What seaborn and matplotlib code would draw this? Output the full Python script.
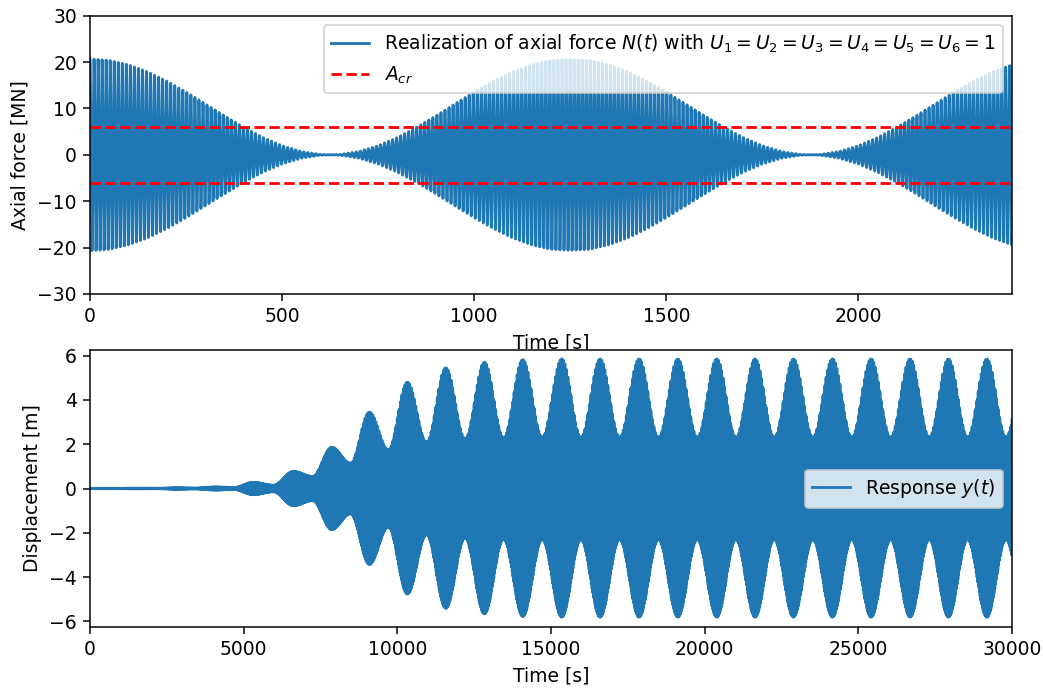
import numpy as np
import pandas as pd
import matplotlib
matplotlib.use("Agg")
import matplotlib.pyplot as plt
import seaborn as sns

# ---------------- data ----------------
# Top panel: envelope of the axial force N(t) [MN] at knot times [s]
force_env_t = [0, 50, 100, 150, 200, 250, 300, 350, 400, 450, 500, 550, 600, 625,
               650, 700, 750, 800, 850, 900, 950, 1000, 1050, 1100, 1150, 1200,
               1250, 1300, 1350, 1400, 1450, 1500, 1550, 1600, 1650, 1700, 1750,
               1800, 1850, 1875, 1900, 1950, 2000, 2050, 2100, 2150, 2200, 2250,
               2300, 2350, 2400]
force_env_v = [20.7, 20.38, 19.42, 17.9, 15.9, 13.55, 11.0, 8.41, 5.94, 3.75, 1.98,
               0.73, 0.08, 0.0, 0.08, 0.73, 1.98, 3.75, 5.94, 8.41, 11.0, 13.55,
               15.9, 17.9, 19.42, 20.38, 20.6, 20.38, 19.42, 17.9, 15.9, 13.55, 11.0,
               8.41, 5.94, 3.75, 1.98, 0.73, 0.08, 0.0, 0.08, 0.73, 1.98, 3.75, 5.94,
               8.41, 11.0, 13.55, 15.9, 17.9, 19.42]
force_carrier_period = 10.5      # s, spacing of the visible strokes
A_cr = 6.0                       # MN, critical amplitude (red dashed lines)

# Bottom panel: envelope of the response y(t) [m]
resp_peak_t = [320, 1570, 2820, 4070, 5316, 6618, 7866, 9090, 10326, 11576, 12832,
               14081, 15350, 16597, 17866, 19126, 20393, 21640, 22887, 24156,
               25415, 26684, 27931, 29180, 30430]
resp_peak_v = [0.01, 0.015, 0.03, 0.07, 0.28, 0.78, 1.87, 3.45, 4.8, 5.45, 5.7,
               5.82, 5.85, 5.85, 5.85, 5.85, 5.85, 5.85, 5.85, 5.85,
               5.85, 5.85, 5.85, 5.85, 5.85]
resp_trough_v = [0.01, 0.012, 0.02, 0.05, 0.15, 0.55, 1.15, 1.75, 2.1, 2.25,
                 2.3, 2.32, 2.32, 2.32, 2.32, 2.32, 2.32, 2.32, 2.32, 2.32,
                 2.32, 2.32, 2.32, 2.32]   # between consecutive peaks
resp_carrier_period = 25.0       # s

# ---------------- build signals ----------------
def cos_interp(t, kt, kv):
    kt = np.asarray(kt, float); kv = np.asarray(kv, float)
    idx = np.clip(np.searchsorted(kt, t) - 1, 0, len(kt) - 2)
    s = (t - kt[idx]) / (kt[idx + 1] - kt[idx])
    s = np.clip(s, 0, 1)
    w = (1 - np.cos(np.pi * s)) / 2
    return kv[idx] + (kv[idx + 1] - kv[idx]) * w

t1 = np.arange(0, 2400.01, 0.25)
env1 = np.interp(t1, force_env_t, force_env_v)
N = env1 * np.cos(2 * np.pi * t1 / force_carrier_period)
df1 = pd.DataFrame({"t": t1, "N": N})

# knots alternating peak / trough for the response envelope
kt, kv = [0.0], [0.01]
for i in range(len(resp_peak_t)):
    kt.append(resp_peak_t[i]); kv.append(resp_peak_v[i])
    if i < len(resp_trough_v):
        kt.append(0.5 * (resp_peak_t[i] + resp_peak_t[i + 1])); kv.append(resp_trough_v[i])
t2 = np.arange(0, 30000.01, 2.0)
env2 = cos_interp(t2, kt, kv)
y = env2 * np.cos(2 * np.pi * t2 / resp_carrier_period)
df2 = pd.DataFrame({"t": t2, "y": y})

# ---------------- plot ----------------
DPI = 135
fig = plt.figure(figsize=(1043 / DPI, 689 / DPI), dpi=DPI)
ax1 = fig.add_axes([0.0863, 0.5733, 0.884, 0.4039])
ax2 = fig.add_axes([0.0863, 0.0900, 0.884, 0.4020])

sns.lineplot(data=df1, x="t", y="N", ax=ax1, estimator=None, sort=False,
             color="#1f77b4",
             label=r"Realization of axial force $N(t)$ with $U_1 = U_2 = U_3 = U_4 = U_5 = U_6 = 1$")
ax1.axhline(A_cr, color="red", ls="--", label=r"$A_{cr}$")
ax1.axhline(-A_cr, color="red", ls="--")
ax1.set_xlim(0, 2400)
ax1.set_ylim(-30, 30)
ax1.set_yticks([-30, -20, -10, 0, 10, 20, 30])
ax1.set_xlabel("Time [s]")
ax1.set_ylabel("Axial force [MN]")
ax1.legend(loc="upper right")

sns.lineplot(data=df2, x="t", y="y", ax=ax2, estimator=None, sort=False,
             color="#1f77b4", label=r"Response $y(t)$")
ax2.set_xlim(0, 30000)
ax2.set_ylim(-6.25, 6.25)
ax2.set_yticks([-6, -4, -2, 0, 2, 4, 6])
ax2.set_xlabel("Time [s]")
ax2.set_ylabel("Displacement [m]")
ax2.legend(loc="center right")

fig.savefig("out.png", dpi=DPI)
